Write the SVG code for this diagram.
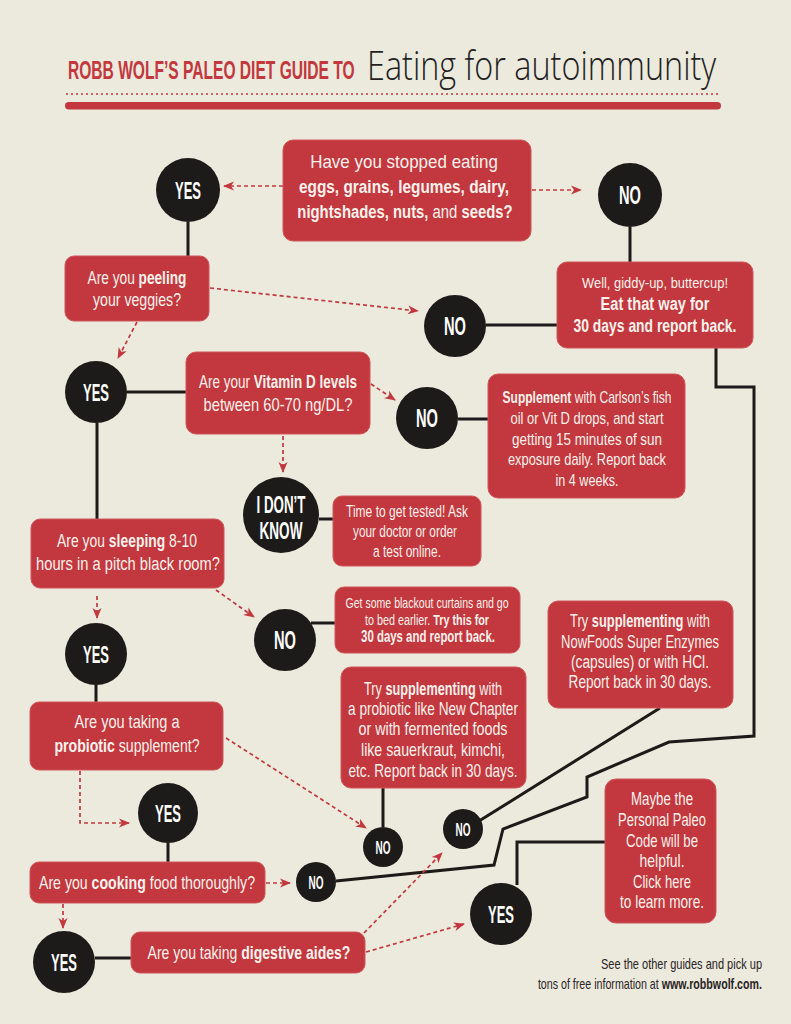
<svg xmlns="http://www.w3.org/2000/svg" width="791" height="1024" viewBox="0 0 791 1024">
<defs>
<marker id="ah" markerUnits="userSpaceOnUse" markerWidth="11" markerHeight="9" refX="10" refY="4.5" orient="auto" overflow="visible">
<path d="M0,0 L11,4.5 L0,9 L3,4.5 Z" fill="#c2383e"/>
</marker>
<style>
.box{fill:#c2383e;stroke:#cf565b;stroke-width:1}
.t{font-family:"Liberation Sans",Arial,sans-serif;fill:#fbf1ec;text-anchor:middle}
.b{font-weight:bold}
.c{fill:#1d1a1a}
.ct{font-family:"Liberation Sans",Arial,sans-serif;font-weight:bold;fill:#ffffff;text-anchor:middle}
.ln{stroke:#1d1a1a;stroke-width:3;fill:none;stroke-linejoin:miter}
.ds{stroke:#c2383e;stroke-width:1.7;stroke-dasharray:4 3;fill:none;marker-end:url(#ah)}
</style>
</defs>
<rect x="0" y="0" width="791" height="1024" fill="#ece9dd"/>

<g id="header">
<text transform="translate(68,79) scale(0.585,1)" font-family="Liberation Sans, Arial, sans-serif" font-weight="bold" font-size="26.5" fill="#c2383e" textLength="490" lengthAdjust="spacingAndGlyphs">ROBB WOLF’S PALEO DIET GUIDE TO</text>
<text transform="translate(367,80) scale(0.72,1)" font-family="Open Sans, Liberation Sans, sans-serif" font-weight="300" font-size="41" fill="#231f1f" textLength="485" lengthAdjust="spacingAndGlyphs">Eating for autoimmunity</text>
<line x1="66" y1="94" x2="718" y2="94" stroke="#c2383e" stroke-width="1.5" stroke-dasharray="2 3"/>
<rect x="65" y="102" width="656" height="7.5" rx="3.75" fill="#c2383e"/>
</g>

<g id="connectors">
<path class="ln" d="M188,222 V256"/>
<path class="ln" d="M630,227 V262"/>
<path class="ln" d="M486,325 H557"/>
<path class="ln" d="M127,392 H186"/>
<path class="ln" d="M97,423 V519"/>
<path class="ln" d="M458,419 H488"/>
<path class="ln" d="M319,519 H333"/>
<path class="ln" d="M311,623 H335"/>
<path class="ln" d="M96,685 V702"/>
<path class="ln" d="M168,843 V862"/>
<path class="ln" d="M95,958 H131"/>
<path class="ln" d="M383,788 V827"/>
<path class="ln" d="M660,708 L479,821"/>
<path class="ln" d="M716,348 V387 H754 V736 L669,742 L587,777 V797 L503,829 L494,865 L336,881"/>
<path class="ln" d="M605,842 H517 V885"/>
<path class="ds" d="M283,186 H224"/>
<path class="ds" d="M532,190 H581"/>
<path class="ds" d="M210,288 L418,311"/>
<path class="ds" d="M137,322 L118,358"/>
<path class="ds" d="M371,384 L395,400"/>
<path class="ds" d="M283,436 V472"/>
<path class="ds" d="M97,596 V618"/>
<path class="ds" d="M216,590 L254,617"/>
<path class="ds" d="M80,771 V823 H129"/>
<path class="ds" d="M226,738 L366,828"/>
<path class="ds" d="M266,883 H290"/>
<path class="ds" d="M63,904 V928"/>
<path class="ds" d="M364,933 L442,853"/>
<path class="ds" d="M366,952 L464,924"/>
</g>

<g id="q1">
<rect class="box" x="283" y="140" width="248" height="101" rx="10"/>
<text class="t" font-size="19" transform="translate(404,168) scale(0.894,1)" textLength="210" lengthAdjust="spacingAndGlyphs">Have you stopped eating</text>
<text class="t b" font-size="19" transform="translate(404,193) scale(0.805,1)" textLength="261" lengthAdjust="spacingAndGlyphs">eggs, grains, legumes, dairy,</text>
<text class="t" font-size="19" transform="translate(405,218) scale(0.78,1)" textLength="276" lengthAdjust="spacingAndGlyphs"><tspan class="b">nightshades, nuts,</tspan> and <tspan class="b">seeds?</tspan></text>
</g>

<g id="yes1"><circle class="c" cx="188" cy="190" r="32"/><text class="ct" font-size="24" transform="translate(188,199) scale(0.54,1)" textLength="48" lengthAdjust="spacingAndGlyphs">YES</text></g>
<g id="no1"><circle class="c" cx="630" cy="195" r="32"/><text class="ct" font-size="25" transform="translate(630,204) scale(0.587,1)" textLength="37.5" lengthAdjust="spacingAndGlyphs">NO</text></g>

<g id="peeling">
<rect class="box" x="65" y="256" width="144" height="65" rx="9"/>
<text class="t" font-size="18" transform="translate(137,284) scale(0.76,1)" textLength="130" lengthAdjust="spacingAndGlyphs">Are you <tspan class="b">peeling</tspan></text>
<text class="t" font-size="18" transform="translate(137,306) scale(0.786,1)" textLength="112" lengthAdjust="spacingAndGlyphs">your veggies?</text>
</g>

<g id="giddy">
<rect class="box" x="557" y="262" width="196" height="86" rx="10"/>
<text class="t" font-size="14.5" transform="translate(655,288) scale(0.888,1)" textLength="164.4" lengthAdjust="spacingAndGlyphs">Well, giddy-up, buttercup!</text>
<text class="t b" font-size="18" transform="translate(655,310) scale(0.813,1)" textLength="134" lengthAdjust="spacingAndGlyphs">Eat that way for</text>
<text class="t b" font-size="18" transform="translate(655,332) scale(0.772,1)" textLength="211" lengthAdjust="spacingAndGlyphs">30 days and report back.</text>
</g>

<g id="no2"><circle class="c" cx="455" cy="326" r="31"/><text class="ct" font-size="25" transform="translate(455,335) scale(0.587,1)" textLength="37.5" lengthAdjust="spacingAndGlyphs">NO</text></g>
<g id="yes2"><circle class="c" cx="96" cy="392" r="31"/><text class="ct" font-size="24" transform="translate(96,401) scale(0.54,1)" textLength="48" lengthAdjust="spacingAndGlyphs">YES</text></g>

<g id="vitamin">
<rect class="box" x="186" y="352" width="184" height="82" rx="10"/>
<text class="t" font-size="18" transform="translate(278,388) scale(0.749,1)" textLength="211" lengthAdjust="spacingAndGlyphs">Are your <tspan class="b">Vitamin D levels</tspan></text>
<text class="t" font-size="18" transform="translate(278,411) scale(0.818,1)" textLength="182" lengthAdjust="spacingAndGlyphs">between 60-70 ng/DL?</text>
</g>

<g id="no3"><circle class="c" cx="427" cy="418" r="31"/><text class="ct" font-size="25" transform="translate(427,427) scale(0.587,1)" textLength="37.5" lengthAdjust="spacingAndGlyphs">NO</text></g>

<g id="supplement">
<rect class="box" x="488" y="374" width="197" height="124" rx="10"/>
<text class="t" font-size="16" transform="translate(587,403) scale(0.751,1)" textLength="225" lengthAdjust="spacingAndGlyphs"><tspan class="b">Supplement</tspan> with Carlson’s fish</text>
<text class="t" font-size="16" transform="translate(587,424) scale(0.808,1)" textLength="189.4" lengthAdjust="spacingAndGlyphs">oil or Vit D drops, and start</text>
<text class="t" font-size="16" transform="translate(587,445) scale(0.839,1)" textLength="178.8" lengthAdjust="spacingAndGlyphs">getting 15 minutes of sun</text>
<text class="t" font-size="16" transform="translate(587,465) scale(0.797,1)" textLength="198.3" lengthAdjust="spacingAndGlyphs">exposure daily. Report back</text>
<text class="t" font-size="16" transform="translate(587,486) scale(0.787,1)" textLength="80" lengthAdjust="spacingAndGlyphs">in 4 weeks.</text>
</g>

<g id="idk">
<circle class="c" cx="281" cy="515" r="38"/>
<text class="ct" font-size="23" transform="translate(281,513) scale(0.581,1)" textLength="84.3" lengthAdjust="spacingAndGlyphs">I DON’T</text>
<text class="ct" font-size="23" transform="translate(281,539) scale(0.59,1)" textLength="72.8" lengthAdjust="spacingAndGlyphs">KNOW</text>
</g>

<g id="tested">
<rect class="box" x="333" y="496" width="148" height="70" rx="9"/>
<text class="t" font-size="16.5" transform="translate(407,517) scale(0.723,1)" textLength="168.7" lengthAdjust="spacingAndGlyphs">Time to get tested! Ask</text>
<text class="t" font-size="16.5" transform="translate(405,537) scale(0.718,1)" textLength="144.9" lengthAdjust="spacingAndGlyphs">your doctor or order</text>
<text class="t" font-size="16.5" transform="translate(407,557) scale(0.727,1)" textLength="93.6" lengthAdjust="spacingAndGlyphs">a test online.</text>
</g>

<g id="sleeping">
<rect class="box" x="31" y="519" width="193" height="69" rx="9"/>
<text class="t" font-size="18.5" transform="translate(127,547) scale(0.752,1)" textLength="186" lengthAdjust="spacingAndGlyphs">Are you <tspan class="b">sleeping</tspan> 8-10</text>
<text class="t" font-size="18.5" transform="translate(128,570) scale(0.795,1)" textLength="231.3" lengthAdjust="spacingAndGlyphs">hours in a pitch black room?</text>
</g>

<g id="no4"><circle class="c" cx="285" cy="640" r="31"/><text class="ct" font-size="25" transform="translate(285,649) scale(0.587,1)" textLength="37.5" lengthAdjust="spacingAndGlyphs">NO</text></g>

<g id="blackout">
<rect class="box" x="335" y="587" width="185" height="66" rx="9"/>
<text class="t" font-size="14" transform="translate(427,608) scale(0.754,1)" textLength="216.3" lengthAdjust="spacingAndGlyphs">Get some blackout curtains and go</text>
<text class="t" font-size="15.5" transform="translate(427,625) scale(0.689,1)" textLength="180" lengthAdjust="spacingAndGlyphs">to bed earlier. <tspan class="b">Try this for</tspan></text>
<text class="t b" font-size="16" transform="translate(428,642) scale(0.714,1)" textLength="187.6" lengthAdjust="spacingAndGlyphs">30 days and report back.</text>
</g>

<g id="yes3"><circle class="c" cx="96" cy="654" r="31"/><text class="ct" font-size="24" transform="translate(96,663) scale(0.54,1)" textLength="48" lengthAdjust="spacingAndGlyphs">YES</text></g>

<g id="nowfoods">
<rect class="box" x="548" y="601" width="185" height="107" rx="10"/>
<text class="t" font-size="18" transform="translate(640,627) scale(0.714,1)" textLength="196" lengthAdjust="spacingAndGlyphs">Try <tspan class="b">supplementing</tspan> with</text>
<text class="t" font-size="18" transform="translate(640,648) scale(0.725,1)" textLength="218" lengthAdjust="spacingAndGlyphs">NowFoods Super Enzymes</text>
<text class="t" font-size="18" transform="translate(640,668) scale(0.762,1)" textLength="181" lengthAdjust="spacingAndGlyphs">(capsules) or with HCl.</text>
<text class="t" font-size="18" transform="translate(640,688) scale(0.756,1)" textLength="189" lengthAdjust="spacingAndGlyphs">Report back in 30 days.</text>
</g>

<g id="probiotic">
<rect class="box" x="30" y="702" width="193" height="68" rx="9"/>
<text class="t" font-size="18" transform="translate(127,728) scale(0.807,1)" textLength="130" lengthAdjust="spacingAndGlyphs">Are you taking a</text>
<text class="t" font-size="18" transform="translate(127,752) scale(0.784,1)" textLength="185" lengthAdjust="spacingAndGlyphs"><tspan class="b">probiotic</tspan> supplement?</text>
</g>

<g id="probiotic-try">
<rect class="box" x="341" y="667" width="185" height="121" rx="10"/>
<text class="t" font-size="18" transform="translate(433,695) scale(0.704,1)" textLength="196" lengthAdjust="spacingAndGlyphs">Try <tspan class="b">supplementing</tspan> with</text>
<text class="t" font-size="18" transform="translate(433,715) scale(0.755,1)" textLength="225" lengthAdjust="spacingAndGlyphs">a probiotic like New Chapter</text>
<text class="t" font-size="18" transform="translate(433,735) scale(0.792,1)" textLength="188" lengthAdjust="spacingAndGlyphs">or with fermented foods</text>
<text class="t" font-size="18" transform="translate(433,756) scale(0.787,1)" textLength="183" lengthAdjust="spacingAndGlyphs">like sauerkraut, kimchi,</text>
<text class="t" font-size="18" transform="translate(433,777) scale(0.758,1)" textLength="223" lengthAdjust="spacingAndGlyphs">etc. Report back in 30 days.</text>
</g>

<g id="yes-cook"><circle class="c" cx="168" cy="813" r="30"/><text class="ct" font-size="24" transform="translate(168,822) scale(0.54,1)" textLength="48" lengthAdjust="spacingAndGlyphs">YES</text></g>
<g id="no5"><circle class="c" cx="383" cy="847" r="20"/><text class="ct" font-size="18" transform="translate(383,854) scale(0.556,1)" textLength="27" lengthAdjust="spacingAndGlyphs">NO</text></g>
<g id="no7"><circle class="c" cx="463" cy="829" r="20"/><text class="ct" font-size="18" transform="translate(463,836) scale(0.556,1)" textLength="27" lengthAdjust="spacingAndGlyphs">NO</text></g>
<g id="no6"><circle class="c" cx="316" cy="882" r="20"/><text class="ct" font-size="18" transform="translate(316,889) scale(0.556,1)" textLength="27" lengthAdjust="spacingAndGlyphs">NO</text></g>

<g id="maybe">
<rect class="box" x="605" y="779" width="111" height="144" rx="11"/>
<text class="t" font-size="18.5" transform="translate(662,805) scale(0.718,1)" textLength="86.4" lengthAdjust="spacingAndGlyphs">Maybe the</text>
<text class="t" font-size="18.5" transform="translate(662,826) scale(0.70,1)" textLength="125.4" lengthAdjust="spacingAndGlyphs">Personal Paleo</text>
<text class="t" font-size="18.5" transform="translate(662,847) scale(0.714,1)" textLength="100.8" lengthAdjust="spacingAndGlyphs">Code will be</text>
<text class="t" font-size="18.5" transform="translate(662,867) scale(0.755,1)" textLength="59.6" lengthAdjust="spacingAndGlyphs">helpful.</text>
<text class="t" font-size="18.5" transform="translate(662,888) scale(0.705,1)" textLength="82.2" lengthAdjust="spacingAndGlyphs">Click here</text>
<text class="t" font-size="18.5" transform="translate(662,908) scale(0.737,1)" textLength="114" lengthAdjust="spacingAndGlyphs">to learn more.</text>
</g>

<g id="cooking">
<rect class="box" x="30" y="862" width="235" height="41" rx="9"/>
<text class="t" font-size="18.5" transform="translate(147,889) scale(0.764,1)" textLength="282.8" lengthAdjust="spacingAndGlyphs">Are you <tspan class="b">cooking</tspan> food thoroughly?</text>
</g>

<g id="yes4"><circle class="c" cx="64" cy="962" r="31"/><text class="ct" font-size="24" transform="translate(64,971) scale(0.54,1)" textLength="48" lengthAdjust="spacingAndGlyphs">YES</text></g>

<g id="digestive">
<rect class="box" x="131" y="932" width="234" height="41" rx="9"/>
<text class="t" font-size="18.5" transform="translate(249,959) scale(0.759,1)" textLength="267.3" lengthAdjust="spacingAndGlyphs">Are you taking <tspan class="b">digestive aides?</tspan></text>
</g>

<g id="yes5"><circle class="c" cx="501" cy="914" r="31"/><text class="ct" font-size="24" transform="translate(501,923) scale(0.54,1)" textLength="48" lengthAdjust="spacingAndGlyphs">YES</text></g>

<g id="footer">
<text font-family="Liberation Sans, Arial, sans-serif" font-size="14" fill="#2a2525" text-anchor="end" transform="translate(762,969) scale(0.787,1)" textLength="204.6" lengthAdjust="spacingAndGlyphs">See the other guides and pick up</text>
<text font-family="Liberation Sans, Arial, sans-serif" font-size="14" fill="#2a2525" text-anchor="end" transform="translate(762,989) scale(0.76,1)" textLength="294.9" lengthAdjust="spacingAndGlyphs">tons of free information at <tspan font-weight="bold">www.robbwolf.com.</tspan></text>
</g>
</svg>
